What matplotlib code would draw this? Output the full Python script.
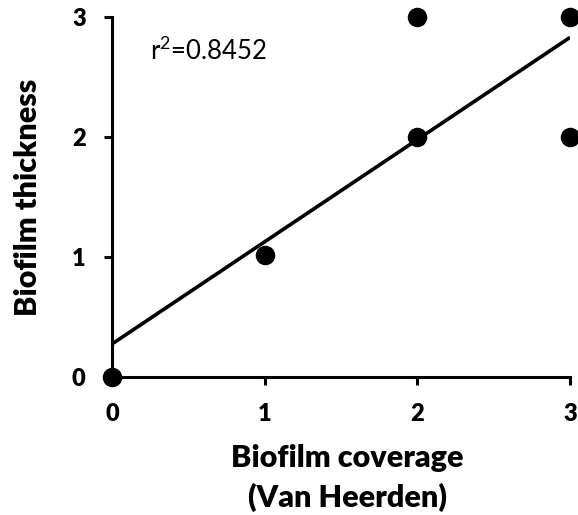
import numpy as np
import matplotlib
matplotlib.use("Agg")
import matplotlib.pyplot as plt

coverage = [0, 1, 2, 2, 3, 3]
thickness = [0, 1.02, 2, 3, 3, 2]
fit_x = [0, 3]
fit_y = [0.275, 2.83]
r2_label = "r$^2$=0.8452"
ticks = [0, 1, 2, 3]

plt.rcParams['font.family'] = ['Lato', 'DejaVu Sans']
plt.rcParams['mathtext.fontset'] = 'custom'
plt.rcParams['mathtext.rm'] = 'Lato'

fig = plt.figure(figsize=(5.78, 5.15), dpi=100)
ax = fig.add_axes([112/578, 1-377/515, (570-112)/578, (377-17)/515])

ax.plot(fit_x, fit_y, color='black', lw=2.6, solid_capstyle='butt', zorder=2)
ax.scatter(coverage, thickness, s=170, color='black', zorder=3, clip_on=False)

ax.set_xlim(0, 3)
ax.set_ylim(0, 3)
ax.set_xticks(ticks)
ax.set_yticks(ticks)
for s in ['top', 'right']:
    ax.spines[s].set_visible(False)
for s in ['left', 'bottom']:
    ax.spines[s].set_linewidth(2.2)
ax.tick_params(direction='out', length=6, width=2.2, labelsize=17)
ax.tick_params(axis='x', pad=13)
ax.tick_params(axis='y', pad=13)
for lab in ax.get_xticklabels() + ax.get_yticklabels():
    lab.set_fontweight('heavy')

ax.text(0.25, 2.72, r2_label, fontsize=18.5, ha='left', va='center')

fig.text(347/578, 1-458/515, "Biofilm coverage", fontsize=22, fontweight='heavy', ha='center', va='center')
fig.text(347/578, 1-497/515, "(Van Heerden)", fontsize=22, fontweight='heavy', ha='center', va='center')
fig.text(28/578, 1-197/515, "Biofilm thickness", fontsize=22, fontweight='heavy', ha='center', va='center', rotation=90)

fig.savefig("out.png", dpi=100)
